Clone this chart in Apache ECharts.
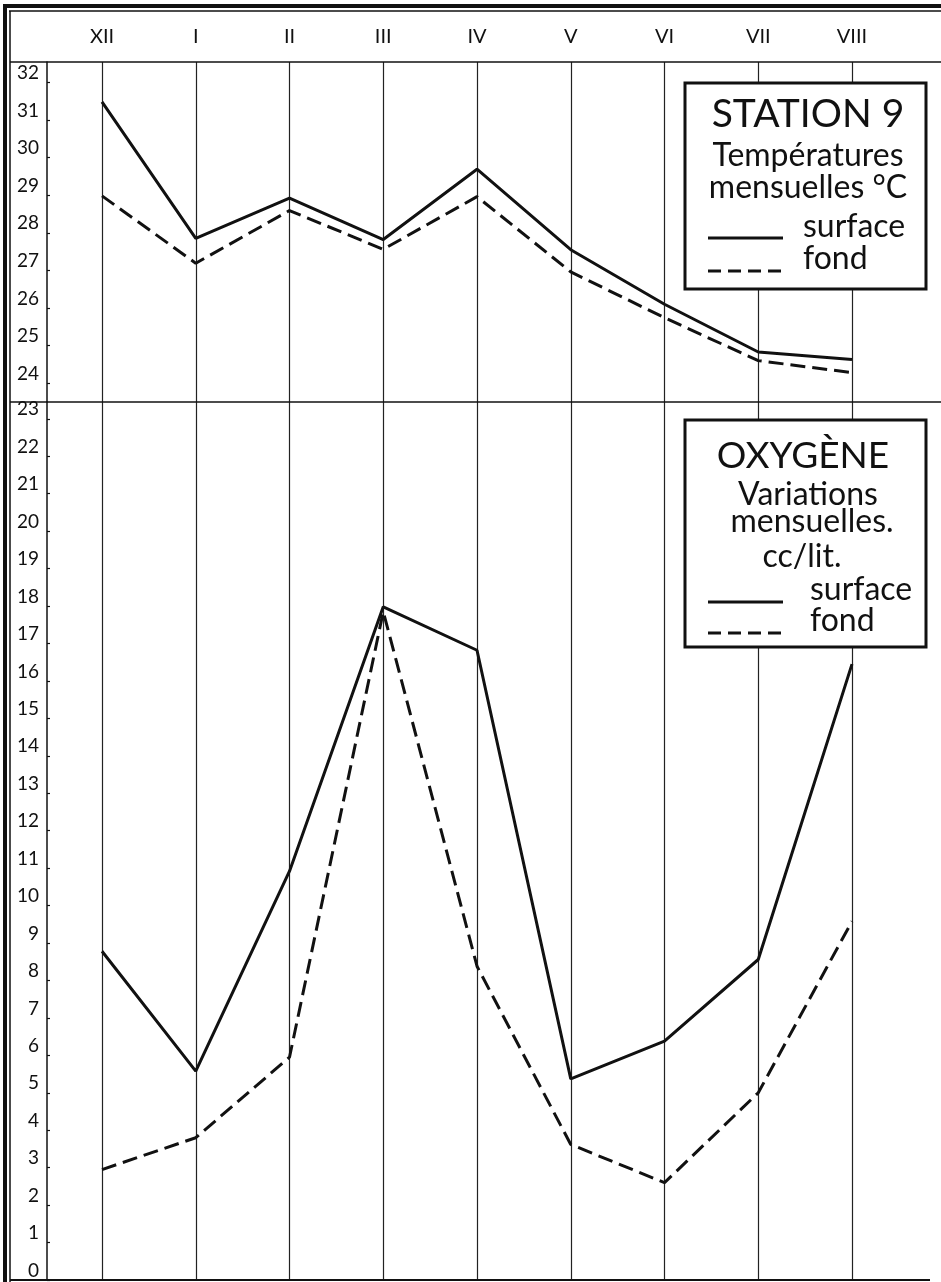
<!DOCTYPE html>
<html>
<head>
<meta charset="utf-8">
<script src="https://cdn.jsdelivr.net/npm/echarts@6/dist/echarts.min.js"></script>
<style>
  html, body { margin: 0; padding: 0; background: #fff; }
  #chart { width: 941px; height: 1282px; }
</style>
</head>
<body>
<div id="chart"></div>
<script>
  // months (XII .. VIII)
  const months = ['XII', 'I', 'II', 'III', 'IV', 'V', 'VI', 'VII', 'VIII']
  // temperatures, deg C
  const tempSurface = [31.48, 27.85, 28.92, 27.82, 29.69, 27.55, 26.1, 24.83, 24.63]
  const tempFond = [28.98, 27.19, 28.59, 27.56, 28.96, 26.96, 25.74, 24.6, 24.28]
  // oxygen, cc/lit.
  const oxySurface = [8.78, 5.58, 10.92, 17.98, 16.82, 5.37, 6.38, 8.56, 16.45]
  const oxyFond = [2.95, 3.8, 5.95, 17.85, 8.38, 3.62, 2.6, 5.0, 9.58]
  const tempTicks = [24, 25, 26, 27, 28, 29, 30, 31, 32]
  const oxyTicks = [0, 1, 2, 3, 4, 5, 6, 7, 8, 9, 10, 11, 12, 13, 14, 15, 16, 17, 18, 19, 20, 21, 22, 23]

  const font = 'Lato'
  const ink = '#111'

  const chart = echarts.init(document.getElementById('chart'))

  function yAxisFor (grid, min, max, ticks) {
    return {
      type: 'value',
      gridIndex: grid,
      min,
      max,
      offset: 55,
      axisLine: { show: true, lineStyle: { color: ink, width: 1.5 } },
      axisTick: { show: true, inside: true, length: 3, customValues: ticks, lineStyle: { color: ink, width: 1.2 } },
      axisLabel: {
        customValues: ticks,
        margin: 8,
        verticalAlign: 'bottom',
        fontFamily: font,
        fontSize: 19,
        color: ink
      },
      splitLine: { show: false }
    }
  }

  function xAxisFor (grid, showLabel) {
    return {
      type: 'category',
      gridIndex: grid,
      data: months,
      boundaryGap: false,
      position: 'top',
      axisLine: { show: false },
      axisTick: { show: false },
      axisLabel: {
        show: showLabel,
        interval: 0,
        margin: 15,
        fontFamily: font,
        fontSize: 20,
        color: ink
      },
      splitLine: { show: true, lineStyle: { color: '#222', width: 1.2 } }
    }
  }

  const solid = { color: ink, width: 3 }
  const dashed = { color: ink, width: 3, type: [15, 7] }

  function hline (x1, x2, y, w) {
    return { type: 'line', shape: { x1, y1: y, x2, y2: y }, style: { stroke: ink, lineWidth: w }, z: 1 }
  }
  function vline (x, y1, y2, w) {
    return { type: 'line', shape: { x1: x, y1, x2: x, y2 }, style: { stroke: ink, lineWidth: w }, z: 1 }
  }
  function txt (s, x, baseline, size, align) {
    return {
      type: 'text',
      z: 20,
      style: {
        text: s,
        x,
        y: baseline - size * 0.38,
        font: size + 'px ' + font,
        fill: ink,
        align: align || 'center',
        verticalAlign: 'middle'
      }
    }
  }
  function sample (y, dash) {
    return {
      type: 'line',
      z: 20,
      shape: { x1: 708, y1: y, x2: 783, y2: y },
      style: { stroke: ink, lineWidth: 3, lineDash: dash ? [13, 7] : null }
    }
  }
  function box (x, y, w, h) {
    return {
      type: 'rect',
      z: 10,
      shape: { x, y, width: w, height: h },
      style: { fill: '#fff', stroke: ink, lineWidth: 3 }
    }
  }

  const option = {
    animation: false,
    backgroundColor: '#fff',
    grid: [
      { left: 102, right: 89, top: 62, height: 340 },
      { left: 102, right: 89, top: 402, height: 878 }
    ],
    xAxis: [xAxisFor(0, true), xAxisFor(1, false)],
    yAxis: [
      yAxisFor(0, 23.5, 32.54, tempTicks),
      yAxisFor(1, 0, 23.45, oxyTicks)
    ],
    series: [
      { name: 'surface', type: 'line', xAxisIndex: 0, yAxisIndex: 0, data: tempSurface, symbol: 'none', lineStyle: solid, z: 5 },
      { name: 'fond', type: 'line', xAxisIndex: 0, yAxisIndex: 0, data: tempFond, symbol: 'none', lineStyle: dashed, z: 5 },
      { name: 'surface', type: 'line', xAxisIndex: 1, yAxisIndex: 1, data: oxySurface, symbol: 'none', lineStyle: solid, z: 5 },
      { name: 'fond', type: 'line', xAxisIndex: 1, yAxisIndex: 1, data: oxyFond, symbol: 'none', lineStyle: dashed, z: 5 }
    ],
    graphic: [
      // frame
      hline(3, 941, 6, 4),
      hline(9, 941, 11, 1.5),
      vline(5, 4, 1282, 4),
      vline(10, 11, 1282, 1.5),
      hline(10, 941, 62, 1.5),
      hline(10, 941, 402, 1.5),
      hline(10, 930, 1280, 2),
      // temperature box
      box(685, 83, 241, 206),
      txt('STATION 9', 808, 129, 39),
      txt('Températures', 808, 168, 32),
      txt('mensuelles °C', 808, 200, 32),
      sample(238, false),
      txt('surface', 803, 239, 32, 'left'),
      sample(271, true),
      txt('fond', 803, 271, 32, 'left'),
      // oxygen box
      box(685, 420, 241, 227),
      txt('OXYGÈNE', 803, 470, 37),
      txt('Variations', 808, 507, 32),
      txt('mensuelles.', 812, 534, 32),
      txt('cc/lit.', 802, 569, 32),
      sample(602, false),
      txt('surface', 810, 602, 32, 'left'),
      sample(633, true),
      txt('fond', 810, 633, 32, 'left')
    ]
  }

  chart.setOption(option)
</script>
</body>
</html>
